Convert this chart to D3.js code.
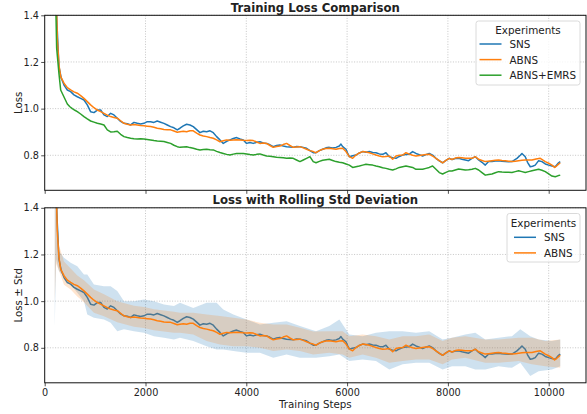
<!DOCTYPE html>
<html><head><meta charset="utf-8">
<script src="https://cdn.jsdelivr.net/npm/d3@7"></script>
<style>body{margin:0;background:#fff}svg{display:block}text{font-family:"DejaVu Sans",sans-serif;fill:#222}</style>
</head><body><svg id="c" width="587" height="414"></svg>
<script>
// ---- data ----
const seriesNames = ["SNS", "ABNS", "ABNS+EMRS"];
const xTicks = [0, 2000, 4000, 6000, 8000, 10000];
const yTicks = [0.8, 1.0, 1.2, 1.4];

const snsSteps = [200,240,283,330,383,449,515,581,647,713,779,845,911,977,1044,1110,1176,1242,1308,1374,1440,1506,1573,1640,1705,1771,1837,1903,1969,2035,2101,2167,2233,2300,2366,2432,2498,2564,2630,2684,2750,2816,2882,2948,3015,3081,3147,3213,3280,3345,3411,3477,3543,3610,3676,3742,3808,3874,3940,4006,4072,4138,4204,4270,4336,4403,4469,4535,4601,4667,4733,4799,4865,4931,4997,5064,5130,5196,5262,5328,5383,5450,5515,5581,5647,5713,5780,5846,5878,5912,5978,6010,6044,6110,6176,6242,6308,6375,6441,6507,6573,6639,6705,6771,6837,6904,6970,7036,7102,7168,7234,7300,7366,7432,7498,7564,7630,7696,7763,7829,7895,7961,8027,8081,8147,8213,8279,8345,8411,8478,8544,8610,8676,8742,8808,8874,8940,9006,9072,9139,9205,9271,9370,9436,9469,9535,9580,9634,9680,9733,9800,9866,9932,10000,10064,10130,10196,10229];
const snsLoss = [1.75,1.38,1.18,1.13,1.101,1.08,1.073,1.059,1.051,1.044,1.037,1.016,0.987,0.983,0.994,0.994,0.973,0.966,0.98,0.973,0.959,0.945,0.937,0.935,0.93,0.941,0.937,0.934,0.937,0.944,0.944,0.941,0.947,0.942,0.937,0.93,0.923,0.918,0.909,0.916,0.926,0.933,0.93,0.923,0.91,0.897,0.903,0.901,0.905,0.897,0.88,0.866,0.851,0.86,0.866,0.872,0.876,0.87,0.866,0.851,0.855,0.851,0.856,0.858,0.853,0.851,0.845,0.837,0.842,0.844,0.84,0.837,0.836,0.834,0.838,0.837,0.834,0.83,0.82,0.811,0.811,0.82,0.826,0.832,0.834,0.831,0.834,0.84,0.848,0.837,0.826,0.81,0.794,0.798,0.801,0.81,0.816,0.813,0.816,0.812,0.811,0.806,0.804,0.811,0.794,0.79,0.787,0.795,0.801,0.803,0.805,0.816,0.808,0.803,0.797,0.803,0.808,0.801,0.787,0.776,0.768,0.778,0.787,0.782,0.786,0.787,0.783,0.78,0.777,0.787,0.794,0.78,0.77,0.758,0.773,0.773,0.776,0.777,0.775,0.773,0.772,0.773,0.787,0.8,0.808,0.794,0.77,0.751,0.753,0.758,0.777,0.773,0.763,0.758,0.754,0.751,0.768,0.773];

const abnsSteps = [200,250,283,317,383,449,515,581,647,713,779,845,911,977,1044,1110,1176,1242,1308,1374,1440,1506,1573,1640,1705,1771,1837,1903,1969,2035,2101,2167,2233,2300,2366,2432,2498,2564,2630,2684,2750,2816,2882,2948,3015,3081,3147,3213,3280,3345,3411,3477,3543,3610,3676,3742,3808,3874,3940,4006,4072,4138,4204,4270,4336,4403,4469,4535,4601,4667,4733,4799,4865,4931,4997,5064,5130,5196,5262,5328,5383,5450,5515,5581,5647,5713,5780,5846,5912,5978,6044,6110,6176,6242,6308,6375,6441,6507,6573,6639,6705,6771,6837,6904,6970,7036,7102,7168,7234,7300,7366,7432,7498,7564,7630,7696,7763,7829,7895,7961,8027,8081,8147,8213,8279,8345,8411,8478,8544,8610,8676,8742,8808,8874,8940,9006,9072,9139,9205,9271,9337,9403,9469,9535,9601,9667,9750,9832,9880,9932,10000,10064,10117,10160,10196,10229];
const abnsLoss = [1.75,1.3,1.187,1.137,1.109,1.09,1.08,1.072,1.066,1.056,1.044,1.03,1.016,1.004,0.994,0.987,0.98,0.972,0.966,0.962,0.959,0.948,0.937,0.933,0.93,0.932,0.93,0.928,0.927,0.925,0.923,0.92,0.916,0.914,0.911,0.91,0.909,0.904,0.899,0.901,0.903,0.901,0.905,0.905,0.895,0.887,0.883,0.88,0.876,0.873,0.866,0.858,0.862,0.866,0.865,0.866,0.867,0.866,0.864,0.863,0.865,0.863,0.857,0.851,0.853,0.851,0.842,0.834,0.838,0.84,0.846,0.851,0.842,0.834,0.836,0.837,0.832,0.826,0.82,0.816,0.811,0.82,0.826,0.829,0.83,0.828,0.826,0.829,0.83,0.816,0.794,0.787,0.801,0.81,0.816,0.814,0.811,0.806,0.801,0.797,0.794,0.795,0.797,0.783,0.797,0.8,0.801,0.811,0.805,0.8,0.797,0.799,0.801,0.803,0.805,0.797,0.787,0.777,0.768,0.778,0.787,0.782,0.788,0.791,0.789,0.787,0.787,0.787,0.794,0.783,0.778,0.773,0.775,0.777,0.779,0.78,0.778,0.777,0.775,0.773,0.775,0.777,0.779,0.78,0.78,0.78,0.784,0.787,0.78,0.773,0.766,0.758,0.748,0.755,0.762,0.768];

const emrsSteps = [200,237,283,317,383,449,500,548,600,647,713,779,845,911,977,1044,1110,1176,1242,1308,1374,1440,1506,1573,1640,1705,1771,1837,1903,1969,2035,2101,2167,2233,2300,2366,2432,2498,2564,2630,2684,2750,2816,2882,2948,3015,3081,3147,3213,3280,3345,3411,3477,3543,3610,3676,3742,3808,3874,3940,4006,4072,4138,4204,4270,4336,4403,4469,4535,4601,4667,4733,4799,4865,4931,4997,5064,5130,5196,5262,5328,5383,5450,5515,5581,5647,5713,5780,5846,5912,5978,6044,6110,6176,6243,6308,6375,6441,6507,6573,6639,6705,6771,6837,6904,6970,7036,7102,7168,7234,7300,7366,7432,7498,7564,7630,7696,7763,7829,7895,7961,8027,8081,8147,8213,8279,8345,8411,8478,8544,8610,8676,8742,8808,8874,8940,9006,9072,9139,9205,9271,9337,9403,9469,9535,9601,9667,9733,9800,9866,9932,10000,10064,10130,10180,10229];
const emrsLoss = [1.65,1.26,1.15,1.08,1.05,1.02,1.008,1.0,0.993,0.987,0.977,0.966,0.956,0.947,0.942,0.937,0.934,0.93,0.909,0.9,0.901,0.903,0.89,0.88,0.876,0.873,0.871,0.87,0.871,0.87,0.868,0.866,0.863,0.861,0.86,0.859,0.855,0.851,0.843,0.837,0.834,0.836,0.837,0.833,0.83,0.826,0.823,0.825,0.826,0.824,0.823,0.817,0.812,0.808,0.804,0.801,0.805,0.808,0.808,0.808,0.806,0.803,0.801,0.804,0.806,0.801,0.797,0.796,0.794,0.792,0.791,0.789,0.787,0.788,0.787,0.78,0.773,0.78,0.787,0.794,0.773,0.768,0.774,0.779,0.781,0.783,0.778,0.773,0.77,0.768,0.763,0.758,0.748,0.751,0.754,0.758,0.762,0.76,0.758,0.754,0.751,0.747,0.744,0.74,0.737,0.742,0.748,0.751,0.754,0.751,0.748,0.74,0.74,0.74,0.744,0.748,0.754,0.74,0.726,0.72,0.727,0.733,0.733,0.737,0.741,0.739,0.737,0.738,0.74,0.744,0.737,0.726,0.715,0.718,0.72,0.725,0.73,0.728,0.727,0.727,0.726,0.73,0.734,0.73,0.726,0.73,0.734,0.737,0.74,0.736,0.73,0.72,0.711,0.708,0.712,0.715];

const snsBandSteps = [200,225,283,383,515,647,779,845,977,1176,1308,1440,1573,1771,1969,2167,2366,2564,2684,2948,3213,3411,3543,3742,4006,4270,4535,4799,5064,5383,5647,5846,6044,6308,6573,6837,7102,7366,7630,7895,8081,8345,8544,8742,9006,9271,9436,9634,9800,10064,10229];
const snsUpper = [1.65,1.55,1.214,1.186,1.164,1.15,1.114,1.114,1.071,1.064,1.064,1.043,1.0,1.0,1.007,1.0,0.986,0.979,0.993,0.971,0.993,0.993,0.964,0.943,0.921,0.9,0.907,0.914,0.893,0.871,0.893,0.921,0.857,0.85,0.864,0.871,0.871,0.864,0.871,0.836,0.843,0.857,0.864,0.836,0.843,0.85,0.879,0.85,0.836,0.829,0.836];
const snsLower = [0.89,1.18,1.129,1.107,1.071,1.036,1.0,0.943,0.929,0.921,0.907,0.871,0.879,0.871,0.864,0.85,0.843,0.836,0.843,0.829,0.807,0.793,0.793,0.786,0.779,0.779,0.757,0.771,0.757,0.757,0.764,0.771,0.743,0.75,0.743,0.707,0.729,0.736,0.736,0.707,0.721,0.721,0.707,0.707,0.721,0.714,0.736,0.679,0.70,0.707,0.721];

const abnsBandSteps = [200,225,283,383,515,647,779,977,1176,1440,1771,1969,2167,2366,2564,2684,2948,3213,3477,3742,4006,4270,4535,4799,5064,5328,5647,5912,6044,6308,6573,6837,7102,7366,7630,7895,8081,8345,8742,9006,9403,9667,9932,10229];
const abnsUpper = [1.7,1.45,1.24,1.17,1.14,1.11,1.09,1.05,1.03,1.0,0.98,0.975,0.965,0.96,0.955,0.95,0.95,0.943,0.936,0.929,0.921,0.907,0.9,0.9,0.886,0.87,0.871,0.871,0.85,0.857,0.85,0.836,0.85,0.85,0.857,0.829,0.843,0.85,0.836,0.836,0.843,0.843,0.829,0.836];
const abnsLower = [1.0,1.16,1.13,1.07,1.05,1.02,0.995,0.95,0.935,0.91,0.89,0.885,0.875,0.87,0.865,0.864,0.857,0.829,0.814,0.807,0.807,0.8,0.786,0.793,0.786,0.771,0.779,0.771,0.757,0.771,0.757,0.736,0.743,0.75,0.75,0.729,0.75,0.757,0.736,0.736,0.743,0.729,0.721,0.714];

// ---- drawing ----
const colors = ["#1f77b4", "#ff7f0e", "#2ca02c"];
const svg = d3.select("#c");
const x = d3.scaleLinear().domain([0, 10000]).range([44.7, 548.7]);
const xR = 586, xL = 44.7;

const panels = [
  {top: 15.3, title: "Training Loss Comparison", ylab: "Loss", labels: false},
  {top: 207.8, title: "Loss with Rolling Std Deviation", ylab: "Loss \u00b1 Std", labels: true}
];
panels.forEach((p, i) => {
  p.y = d3.scaleLinear().domain([0.8, 1.4]).range([p.top + 140, p.top]);
  p.bottom = p.y(0.65);
  const g = svg.append("g");
  const cid = "clip" + i;
  svg.append("clipPath").attr("id", cid).append("rect")
    .attr("x", xL).attr("y", p.top).attr("width", xR - xL).attr("height", p.bottom - p.top);
  g.selectAll(".gx").data(xTicks.filter(t => t > 0)).join("line")
    .attr("x1", d => x(d)).attr("x2", d => x(d)).attr("y1", p.top).attr("y2", p.bottom)
    .attr("stroke", "#b8b8b8").attr("stroke-width", 0.8).attr("stroke-dasharray", "1,1.6");
  g.selectAll(".gy").data(yTicks).join("line")
    .attr("x1", xL).attr("x2", xR).attr("y1", d => p.y(d)).attr("y2", d => p.y(d))
    .attr("stroke", "#b8b8b8").attr("stroke-width", 0.8).attr("stroke-dasharray", "1,1.6");
  p.plot = g.append("g").attr("clip-path", `url(#${cid})`);
  const ax = g.append("g").attr("transform", `translate(0,${p.bottom})`)
    .call(d3.axisBottom(x).tickValues(xTicks).tickSize(3.5).tickPadding(2.5)
      .tickFormat(p.labels ? d3.format("d") : () => ""));
  const ay = g.append("g").attr("transform", `translate(${xL},0)`)
    .call(d3.axisLeft(p.y).tickValues(yTicks).tickSize(3.5).tickPadding(2.2).tickFormat(d3.format(".1f")));
  [ax, ay].forEach(a => {
    a.select(".domain").remove();
    a.selectAll(".tick line").attr("stroke", "#222").attr("stroke-width", 0.8);
    a.selectAll(".tick text").attr("font-size", 9.7).attr("fill", "#222").style("font-family", "DejaVu Sans");
  });
  svg.append("text").attr("x", (xL + xR) / 2).attr("y", p.top - 3.8)
    .attr("text-anchor", "middle").attr("font-size", 11.7).attr("font-weight", "bold").text(p.title);
  svg.append("text").attr("transform", `translate(21.5,${(p.top + p.bottom) / 2}) rotate(-90)`)
    .attr("text-anchor", "middle").attr("font-size", 10.2).text(p.ylab);
});

const pTop = panels[0], pBot = panels[1];
const mk = (steps, vals) => steps.map((s, i) => [s, vals[i]]);
const lineFor = p => d3.line().x(d => x(d[0])).y(d => p.y(d[1]));

const lineData = [mk(snsSteps, snsLoss), mk(abnsSteps, abnsLoss), mk(emrsSteps, emrsLoss)];
lineData.forEach((d, i) => {
  pTop.plot.append("path").datum(d).attr("d", lineFor(pTop)).attr("fill", "none")
    .attr("stroke", colors[i]).attr("stroke-width", 1.5).attr("stroke-linejoin", "round");
});

const areaFor = p => d3.area().x(d => x(d[0])).y0(d => p.y(d[1])).y1(d => p.y(d[2]));
const snsBand = snsBandSteps.map((s, i) => [s, snsLower[i], snsUpper[i]]);
const abnsBand = abnsBandSteps.map((s, i) => [s, abnsLower[i], abnsUpper[i]]);
pBot.plot.append("path").datum(snsBand).attr("d", areaFor(pBot)).attr("fill", colors[0]).attr("fill-opacity", 0.22);
pBot.plot.append("path").datum(lineData[0]).attr("d", lineFor(pBot)).attr("fill", "none")
  .attr("stroke", colors[0]).attr("stroke-width", 1.5).attr("stroke-linejoin", "round");
pBot.plot.append("path").datum(abnsBand).attr("d", areaFor(pBot)).attr("fill", colors[1]).attr("fill-opacity", 0.2);
pBot.plot.append("path").datum(lineData[1]).attr("d", lineFor(pBot)).attr("fill", "none")
  .attr("stroke", colors[1]).attr("stroke-width", 1.5).attr("stroke-linejoin", "round");

panels.forEach(p => {
  svg.append("rect").attr("x", xL).attr("y", p.top).attr("width", xR - xL).attr("height", p.bottom - p.top)
    .attr("fill", "none").attr("stroke", "#111").attr("stroke-width", 1);
});

svg.append("text").attr("x", (xL + xR) / 2).attr("y", 408).attr("text-anchor", "middle")
  .attr("font-size", 10.3).text("Training Steps");

function legend(x0, y0, w, h, names, titleX, titleY, rowY0, handleX, textX) {
  const g = svg.append("g");
  g.append("rect").attr("x", x0).attr("y", y0).attr("width", w).attr("height", h).attr("rx", 2.5)
    .attr("fill", "#fff").attr("fill-opacity", 0.8).attr("stroke", "#d0d0d0").attr("stroke-width", 0.8);
  g.append("text").attr("x", titleX).attr("y", titleY).attr("text-anchor", "middle")
    .attr("dominant-baseline", "central").attr("font-size", 10.4).text("Experiments");
  names.forEach((n, i) => {
    const yy = rowY0 + i * 15.6;
    g.append("line").attr("x1", handleX).attr("x2", handleX + 22).attr("y1", yy).attr("y2", yy)
      .attr("stroke", colors[i]).attr("stroke-width", 1.5);
    g.append("text").attr("x", textX).attr("y", yy).attr("dominant-baseline", "central")
      .attr("font-size", 10.4).text(n);
  });
}
legend(476, 21, 104, 64, seriesNames, 528, 29.5, 44, 479.5, 509.5);
legend(507, 213.5, 73, 48.5, seriesNames.slice(0, 2), 543.5, 222.5, 237.3, 514, 544);
</script></body></html>
